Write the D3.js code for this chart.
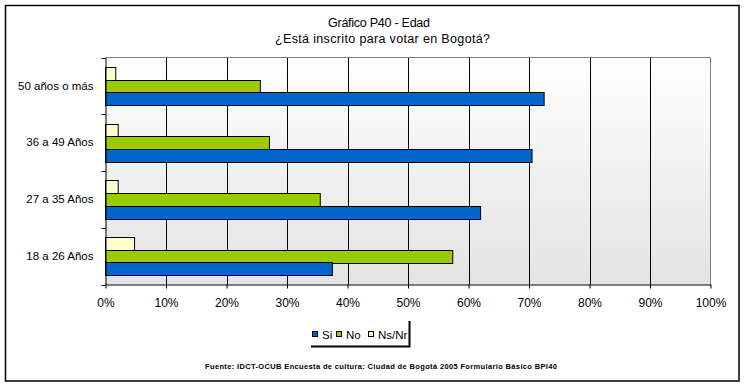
<!DOCTYPE html>
<html><head><meta charset="utf-8">
<script src="https://cdn.jsdelivr.net/npm/d3@7/dist/d3.min.js"></script>
<style>body{margin:0;background:#fff}svg{display:block}text{font-family:Arial,"Liberation Sans",sans-serif}</style>
</head><body><svg id="c" width="746" height="387"></svg>
<script>
const categories = ["50 años o más","36 a 49 Años","27 a 35 Años","18 a 26 Años"];
const seriesNames = ["Ns/Nr","No","Si"];
const si   = [72.5, 70.5, 62.0, 37.5];
const no   = [25.6, 27.1, 35.5, 57.4];
const nsnr = [1.7, 2.1, 2.1, 4.8];
const ticks = [0,10,20,30,40,50,60,70,80,90,100];
const colors = {"Si":"#0066CC","No":"#99CC00","Ns/Nr":"#FFFFCC"};
const values = {"Si":si,"No":no,"Ns/Nr":nsnr};

const svg = d3.select("#c");
const L=105.5, R=710.5, T=57.5, B=284.5;
const defs = svg.append("defs");
const g = defs.append("linearGradient").attr("id","bg").attr("x1",0).attr("y1",0).attr("x2",0).attr("y2",1);
g.append("stop").attr("offset","0%").attr("stop-color","#ffffff");
g.append("stop").attr("offset","100%").attr("stop-color","#e3e3e3");

// outer frame
svg.append("rect").attr("x",5.5).attr("y",5.5).attr("width",733.5).attr("height",375.5)
  .attr("fill","#fff").attr("stroke","#000").attr("stroke-width",1.5);

svg.append("text").attr("x",379).attr("y",27).attr("text-anchor","middle").attr("font-size",12.5)
  .attr("textLength",102).attr("lengthAdjust","spacing").text("Gráfico P40 - Edad");
svg.append("text").attr("x",382.5).attr("y",43).attr("text-anchor","middle").attr("font-size",12.5)
  .attr("textLength",215).attr("lengthAdjust","spacing").text("¿Está inscrito para votar en Bogotá?");

const x = d3.scaleLinear().domain([0,100]).range([L,R]);
const y = d3.scaleBand().domain(categories).range([T,B]);
const ys = d3.scaleBand().domain(seriesNames).range([0,y.bandwidth()]).paddingInner(0).paddingOuter(0.74);

svg.append("rect").attr("x",L).attr("y",T).attr("width",R-L).attr("height",B-T).attr("fill","url(#bg)");
// gridlines
svg.append("g").selectAll("line").data(ticks.filter(t=>t>0&&t<100)).join("line")
  .attr("x1",d=>Math.round(x(d))+0.5).attr("x2",d=>Math.round(x(d))+0.5).attr("y1",T).attr("y2",B)
  .attr("stroke","#000").attr("stroke-width",1);
// border top/right gray
svg.append("path").attr("d",`M${L},${T}H${R}V${B}`).attr("fill","none").attr("stroke","#808080");

// bars
const rows = svg.append("g");
categories.forEach((c,i)=>{
  seriesNames.forEach(s=>{
    rows.append("rect").attr("x",x(0)).attr("y",Math.round(y(c)+ys(s))+0.5)
      .attr("width",x(values[s][i])-x(0)).attr("height",Math.round(ys.bandwidth()))
      .attr("fill",colors[s]).attr("stroke","#000").attr("stroke-width",1);
  });
});

// x axis
const xa = svg.append("g").attr("transform",`translate(0,${B})`)
  .call(d3.axisBottom(x).tickValues(ticks).tickFormat(d=>d+"%").tickSize(4).tickSizeOuter(0));
xa.select(".domain").attr("stroke","#000");
xa.selectAll(".tick line").attr("stroke","#000");
xa.selectAll("text").attr("font-size",12).attr("font-family","Arial, 'Liberation Sans', sans-serif").attr("fill","#000").attr("dy","1.25em");

// y axis
const ya = svg.append("g").attr("transform",`translate(${L},0)`)
  .call(d3.axisLeft(y).tickSize(0).tickPadding(12));
ya.select(".domain").attr("stroke","#000");
ya.selectAll("text").attr("font-size",11.5).attr("font-family","Arial, 'Liberation Sans', sans-serif").attr("fill","#000");
svg.append("g").selectAll("line").data(categories.concat(["_end"])).join("line")
  .attr("x1",L-4).attr("x2",L).attr("y1",(d,i)=>Math.round(T+i*y.bandwidth())+0.5).attr("y2",(d,i)=>Math.round(T+i*y.bandwidth())+0.5)
  .attr("stroke","#000");

// legend
const lg = svg.append("g");
lg.append("path").attr("d","M311,346.5H409.5V321").attr("fill","none").attr("stroke","#000").attr("stroke-width",2);
const legendItems = [["Si",312,322],["No",336,346],["Ns/Nr",368,378]];
legendItems.forEach(([n,sx,tx])=>{
  lg.append("rect").attr("x",sx+0.5).attr("y",331.5).attr("width",5).attr("height",5).attr("fill",colors[n]).attr("stroke","#000");
  lg.append("text").attr("x",tx).attr("y",338.5).attr("font-size",11.5).text(n);
});

svg.append("text").attr("x",381).attr("y",369).attr("text-anchor","middle").attr("font-size",7.5).attr("font-weight","bold")
  .attr("textLength",352).attr("lengthAdjust","spacing")
  .text("Fuente: IDCT-OCUB Encuesta de cultura: Ciudad de Bogotá 2005 Formulario Básico  BPI40");
</script></body></html>
